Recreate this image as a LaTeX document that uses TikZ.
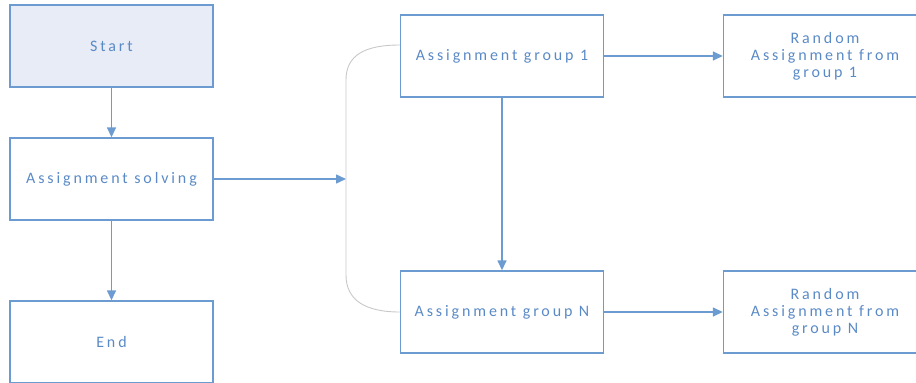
\documentclass[tikz,border=0pt]{standalone}
\usepackage{fontspec}
\setmainfont{Carlito}
\usetikzlibrary{arrows.meta}
\definecolor{boxline}{HTML}{6C9BD2}
\definecolor{boxtext}{HTML}{5A8AC6}
\definecolor{startfill}{HTML}{E8ECF6}
\definecolor{bracecol}{HTML}{C8C8C8}
\tikzset{
  flowbox/.style={draw=boxline, line width=1.4pt, minimum width=203pt, minimum height=82pt,
    inner sep=2pt, align=center, text=boxtext, font=\fontsize{16}{17}\selectfont\addfontfeatures{LetterSpace=18}},
  flowarrow/.style={draw=boxline, line width=1.5pt, -{Triangle[width=9pt,length=10pt]}},
  bracestyle/.style={draw=bracecol, line width=0.9pt}
}
\begin{document}
\begin{tikzpicture}[x=1pt,y=-1pt]
\useasboundingbox (0,0) rectangle (916,383);
\clip (0,0) rectangle (916,383);
\node[flowbox, fill=startfill] (start) at (111.5,46) {Start};
\node[flowbox] (solve) at (111.5,179) {Assignment solving};
\node[flowbox] (end) at (111.5,342) {End};
\node[flowbox] (g1) at (502,56) {Assignment group 1};
\node[flowbox] (gN) at (502,312) {Assignment group N};
\node[flowbox] (r1) at (825,56) {Random\\Assignment from\\group 1};
\node[flowbox] (rN) at (825,312) {Random\\Assignment from\\group N};
\coordinate (btop) at (400,45);
\coordinate (bbot) at (400,312);
\coordinate (bmid) at (346,179);
\draw[bracestyle] (btop) .. controls (365,45) and (346,55) .. (346,80) -- (346,275) .. controls (346,300) and (365,312) .. (bbot);
\draw[flowarrow] (start) -- (solve);
\draw[flowarrow] (solve) -- (end);
\draw[flowarrow] (solve.east) -- (bmid);
\draw[flowarrow] (g1) -- (gN);
\draw[flowarrow] (g1) -- (r1);
\draw[flowarrow] (gN) -- (rN);
\end{tikzpicture}
\end{document}
